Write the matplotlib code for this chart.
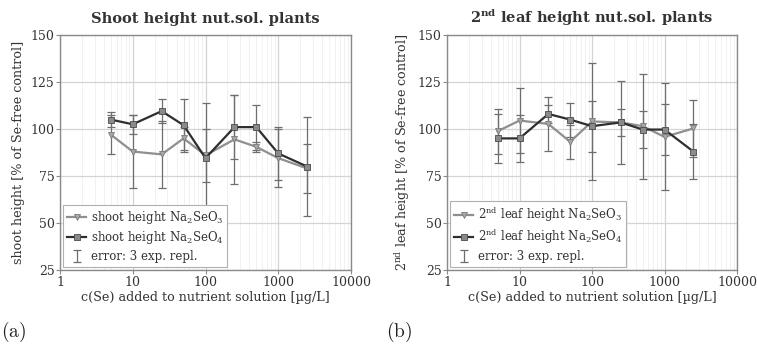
import numpy as np
import matplotlib.pyplot as plt
from matplotlib.ticker import FixedLocator, NullFormatter, LogLocator

plt.rcParams['font.family'] = ['DejaVu Serif']
plt.rcParams['mathtext.fontset'] = 'dejavuserif'

conc = [5, 10, 25, 50, 100, 250, 500, 1000, 2500]

# shoot height
shoot_seo3 = [97, 88, 86.5, 95, 86, 94.5, 90.5, 84.5, 79]
shoot_seo3_err = [10.5, 19.5, 18, 6, 14, 23.5, 2.5, 15.5, 13]
shoot_seo4 = [105, 102.5, 109.5, 102, 84.5, 101, 101, 87, 80]
shoot_seo4_err = [4, 5, 6.5, 14, 29.5, 17, 12, 14, 26.5]

# 2nd leaf height
leaf_seo3 = [98.8, 104.5, 102.7, 93.2, 104, 103.5, 101.5, 95.8, 100.3]
leaf_seo3_err = [12, 17.5, 14.5, 9, 31, 22, 28, 28.5, 15]
leaf_seo4 = [95, 95, 108, 105, 101.5, 103.5, 99.7, 99.7, 88]
leaf_seo4_err = [13, 12.5, 5, 9, 13.5, 7, 10, 13.5, 14.5]

c_light = '#8f8f8f'
c_dark = '#2e2e2e'
c_err = '#6e6e6e'
c_frame = '#8a8a8a'

fig = plt.figure(figsize=(7.57, 3.47), dpi=100)
ax1 = fig.add_axes([60 / 757, 1 - 270 / 347, 291 / 757, 235 / 347])
ax2 = fig.add_axes([447 / 757, 1 - 270 / 347, 290 / 757, 235 / 347])


def panel(ax, y3, e3, y4, e4, name, title, ylabel):
    ax.errorbar(conc, y3, yerr=e3, fmt='none', ecolor=c_err, elinewidth=0.9,
                capsize=3, capthick=0.9, zorder=2)
    ax.errorbar(conc, y4, yerr=e4, fmt='none', ecolor=c_err, elinewidth=0.9,
                capsize=3, capthick=0.9, zorder=2)
    ax.plot(conc, y3, color=c_light, lw=1.6, marker='v', ms=5,
            mfc='#a8a8a8', mec='#7a7a7a', mew=0.6, zorder=3,
            label=name + r' Na$_2$SeO$_3$')
    ax.plot(conc, y4, color=c_dark, lw=1.6, marker='s', ms=5,
            mfc='#8a8a8a', mec='#4a4a4a', mew=0.6, zorder=4,
            label=name + r' Na$_2$SeO$_4$')
    ax.errorbar([np.nan], [np.nan], yerr=[1], fmt='none', ecolor=c_err,
                elinewidth=0.9, capsize=3, capthick=0.9,
                label='error: 3 exp. repl.')

    ax.set_xscale('log')
    ax.set_xlim(1, 10000)
    ax.set_ylim(25, 150)
    ax.set_yticks([25, 50, 75, 100, 125, 150])
    ax.xaxis.set_major_locator(FixedLocator([1, 10, 100, 1000, 10000]))
    ax.set_xticklabels(['1', '10', '100', '1000', '10000'])
    ax.xaxis.set_minor_locator(LogLocator(base=10, subs=np.arange(2, 10)))
    ax.xaxis.set_minor_formatter(NullFormatter())
    ax.grid(True, which='major', color='#d4d4d4', lw=0.9)
    ax.grid(True, which='minor', axis='x', color='#efefef', lw=0.6)
    ax.set_axisbelow(True)
    for s in ax.spines.values():
        s.set_color(c_frame)
        s.set_linewidth(1.0)
    ax.tick_params(which='major', length=3, color=c_frame, labelsize=9,
                   labelcolor='#333333', pad=1)
    ax.tick_params(which='minor', length=0)
    ax.set_xlabel('c(Se) added to nutrient solution [µg/L]', fontsize=9.2,
                  color='#333333', labelpad=2)
    ax.set_ylabel(ylabel, fontsize=9.2, color='#333333', labelpad=4)
    ax.set_title(title, fontsize=10.5, fontweight='bold', color='#333333', pad=9)

    h, l = ax.get_legend_handles_labels()
    leg = ax.legend(h, l, loc='lower left', fontsize=8.5, frameon=True,
                    fancybox=False, edgecolor='#b0b0b0', framealpha=1,
                    borderaxespad=0.25, handlelength=1.6, handletextpad=0.4,
                    labelspacing=0.3, borderpad=0.35)
    leg.get_frame().set_linewidth(0.8)
    for t in leg.get_texts():
        t.set_color('#333333')


panel(ax1, shoot_seo3, shoot_seo3_err, shoot_seo4, shoot_seo4_err,
      'shoot height', 'Shoot height nut.sol. plants',
      'shoot height [% of Se-free control]')
panel(ax2, leaf_seo3, leaf_seo3_err, leaf_seo4, leaf_seo4_err,
      r'2$^{\mathrm{nd}}$ leaf height', r'2$^{\mathbf{nd}}$ leaf height nut.sol. plants',
      r'2$^{\mathrm{nd}}$ leaf height [% of Se-free control]')

fig.text(1 / 757, 3 / 347, r'$\mathrm{(a)}$', fontsize=14, math_fontfamily='cm',
         va='bottom', ha='left', color='#222222')
fig.text(386 / 757, 3 / 347, r'$\mathrm{(b)}$', fontsize=14, math_fontfamily='cm',
         va='bottom', ha='left', color='#222222')

fig.savefig('out.png', dpi=100)
